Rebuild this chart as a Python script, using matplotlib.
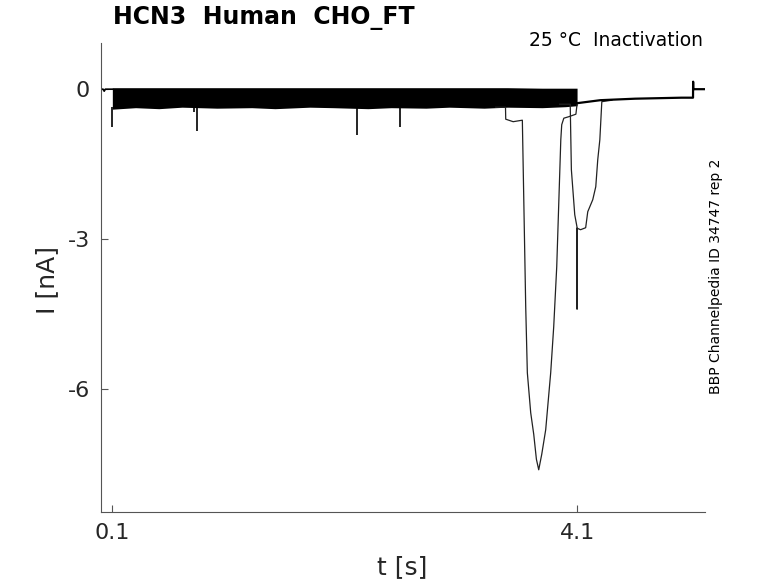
import matplotlib
matplotlib.use('Agg')
import matplotlib.pyplot as plt

# holding segment before the test pulse
pre_t = [0.005, 0.02, 0.03, 0.04, 0.1]
pre_i = [0.0, 0.0, -0.04, 0.0, 0.0]

# envelope of the overlapping sweeps during the pulse (0.1 - 4.1 s)
band_t = [0.1, 0.3, 0.5, 0.7, 1.0, 1.3, 1.5, 1.8, 2.0, 2.3, 2.5, 2.8,
          3.0, 3.3, 3.5, 3.8, 4.0, 4.1]
band_hi = [0.03, 0.03, 0.03, 0.03, 0.03, 0.03, 0.03, 0.03, 0.03, 0.03,
           0.03, 0.03, 0.03, 0.03, 0.03, 0.02, 0.02, 0.02]
band_lo = [-0.40, -0.37, -0.39, -0.36, -0.38, -0.37, -0.39, -0.36, -0.37,
           -0.39, -0.37, -0.38, -0.36, -0.38, -0.36, -0.37, -0.35, -0.33]

# short downward glitches on single sweeps
spike_t = [0.10, 0.80, 0.833, 2.207, 2.574]
spike_lo = [-0.75, -0.45, -0.83, -0.91, -0.75]

# sweep with the big inward transient
trA_t = [3.40, 3.484, 3.486, 3.55, 3.629, 3.658, 3.672, 3.701, 3.727, 3.750,
         3.770, 3.796, 3.830, 3.873, 3.899, 3.925, 3.960, 3.968, 3.986, 4.029, 4.09, 4.10]
trA_i = [-0.36, -0.36, -0.60, -0.65, -0.62, -4.35, -5.67, -6.47, -6.90, -7.40,
         -7.61, -7.30, -6.81, -5.67, -4.75, -3.55, -1.01, -0.71, -0.58, -0.55, -0.50, -0.30]

# second sweep crossing the end of the pulse
trB_t = [3.95, 4.041, 4.051, 4.080, 4.099, 4.100, 4.101, 4.13, 4.174, 4.192,
         4.235, 4.261, 4.278, 4.296, 4.313, 4.40]
trB_i = [-0.30, -0.30, -1.61, -2.51, -2.75, -4.40, -2.78, -2.81, -2.77, -2.45,
         -2.21, -1.95, -1.41, -1.01, -0.25, -0.22]

# common tail after the pulse
post_t = [4.1, 4.3, 4.6, 5.0, 5.098, 5.099, 5.100, 5.2]
post_i = [-0.28, -0.22, -0.19, -0.17, -0.17, 0.15, 0.0, 0.0]

fig = plt.figure(figsize=(7.78, 5.83), dpi=100)
ax = fig.add_axes([0.1302, 0.1213, 0.7758, 0.8055])

ax.plot(pre_t, pre_i, color='k', lw=1.2)
ax.fill_between(band_t, band_lo, band_hi, color='k', lw=0)
ax.vlines(spike_t, -0.35, spike_lo, color='k', lw=1.2)
ax.plot(trA_t, trA_i, color='#222222', lw=0.9)
ax.plot(trB_t, trB_i, color='#222222', lw=0.9)
ax.plot(post_t, post_i, color='k', lw=1.6)

ax.set_xlim(0.005, 5.2)
ax.set_ylim(-8.46, 0.93)
ax.set_xticks([0.1, 4.1])
ax.set_xticklabels(['0.1', '4.1'])
ax.set_yticks([-6, -3, 0])
ax.set_yticklabels(['-6', '-3', '0'])

for s in ['top', 'right']:
    ax.spines[s].set_visible(False)
for s in ['left', 'bottom']:
    ax.spines[s].set_color('#555555')
    ax.spines[s].set_linewidth(0.8)
ax.tick_params(direction='in', length=5, width=0.8, color='#555555',
               labelcolor='#262626', labelsize=16, pad=8)

fig.text(402 / 778, 1 - 567 / 583, 't [s]', fontsize=18, color='#262626',
         ha='center', va='center')
fig.text(47 / 778, 1 - 280 / 583, 'I [nA]', fontsize=18, color='#262626',
         ha='center', va='center', rotation=90)
fig.text(113 / 778, 1 - 18 / 583, 'HCN3  Human  CHO_FT', fontsize=17,
         fontweight='bold', ha='left', va='center')
fig.text(703 / 778, 1 - 41 / 583, '25 °C  Inactivation', fontsize=13.5,
         ha='right', va='center')
fig.text(716 / 778, 1 - 276 / 583, 'BBP Channelpedia ID 34747 rep 2',
         fontsize=10, ha='center', va='center', rotation=90)

fig.savefig('out.png', dpi=100)
